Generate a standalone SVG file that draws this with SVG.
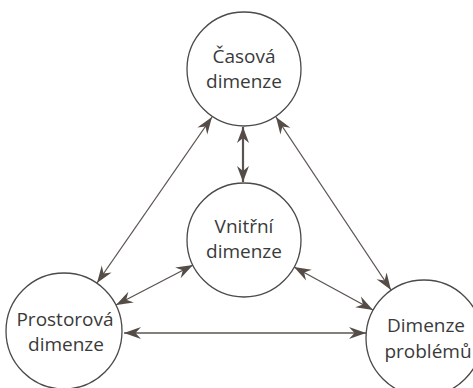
<svg xmlns="http://www.w3.org/2000/svg" width="473" height="388" viewBox="0 0 473 388">
<style>
.node circle{fill:#fff;stroke:#4a4a4a;stroke-width:1.3}
.node text{font-family:"Open Sans","Liberation Sans",sans-serif;font-size:19px;fill:#3a3a3a;text-anchor:middle}
.conn line{stroke:#5a5450;stroke-width:1.3;fill:none}
.conn line.thick{stroke-width:2.2}
</style>
<defs>
<marker id="ah" viewBox="-18 -7 19 14" refX="0" refY="0" markerWidth="19" markerHeight="14" markerUnits="userSpaceOnUse" orient="auto-start-reverse">
<path d="M0,0 L-17,-6 L-11.5,0 L-17,6 Z" fill="#554c47"/>
</marker>
<marker id="ah2" viewBox="-18 -7 19 14" refX="0" refY="0" markerWidth="19" markerHeight="14" markerUnits="userSpaceOnUse" orient="auto-start-reverse">
<path d="M0,0 L-16,-6 L-11,0 L-16,6 Z" fill="#554c47"/>
</marker>
</defs>
<rect width="473" height="388" fill="#fff"/>
<g id="connectors" class="conn">
<line class="thick" x1="243" y1="127" x2="243" y2="182" marker-start="url(#ah2)" marker-end="url(#ah2)"/>
<line x1="212" y1="117" x2="97" y2="283" marker-start="url(#ah)" marker-end="url(#ah)"/>
<line x1="276" y1="117" x2="391" y2="290" marker-start="url(#ah)" marker-end="url(#ah)"/>
<line x1="193" y1="265" x2="116" y2="305" marker-start="url(#ah)" marker-end="url(#ah)"/>
<line x1="294" y1="267" x2="373" y2="310" marker-start="url(#ah)" marker-end="url(#ah)"/>
<line x1="124" y1="333" x2="366" y2="333" marker-start="url(#ah)" marker-end="url(#ah)"/>
</g>
<g id="casova" class="node">
<circle cx="244" cy="69" r="57"/>
<text x="244" y="63">Časová</text>
<text x="244" y="88">dimenze</text>
</g>
<g id="vnitrni" class="node">
<circle cx="244" cy="240" r="57"/>
<text x="244" y="233">Vnitřní</text>
<text x="244" y="258">dimenze</text>
</g>
<g id="prostorova" class="node">
<circle cx="64" cy="331" r="58"/>
<text x="65" y="326">Prostorová</text>
<text x="66" y="351">dimenze</text>
</g>
<g id="problemu" class="node">
<circle cx="424" cy="338" r="58"/>
<text x="426" y="332">Dimenze</text>
<text x="428" y="358">problémů</text>
</g>
</svg>
